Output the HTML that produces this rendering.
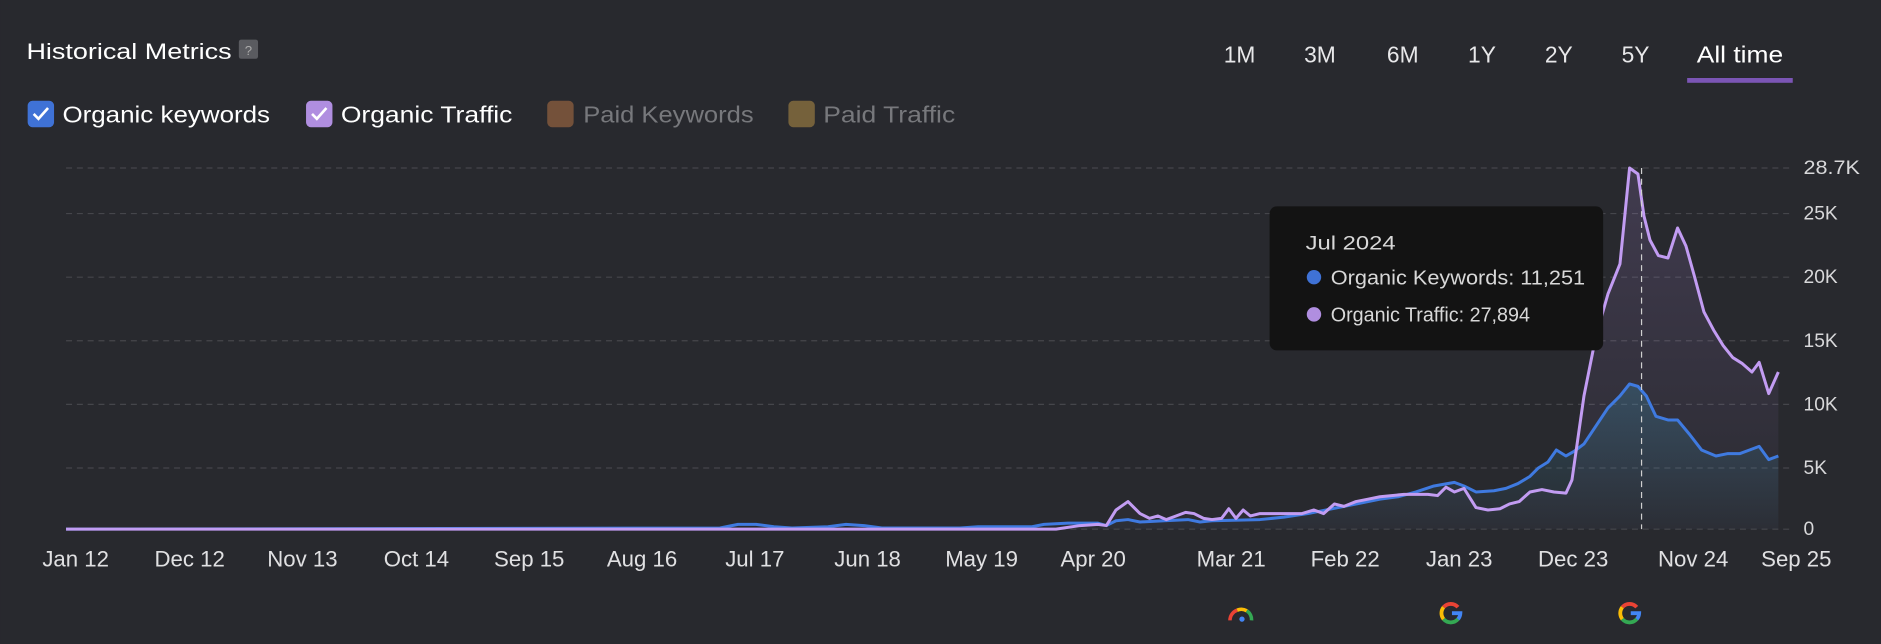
<!DOCTYPE html>
<html><head><meta charset="utf-8"><style>
html,body{margin:0;padding:0;background:#28292e;width:1881px;height:644px;overflow:hidden}
svg{display:block;font-family:"Liberation Sans",sans-serif}
</style></head><body>
<svg width="1881" height="644" viewBox="0 0 1567.5 536.7" xmlns="http://www.w3.org/2000/svg">
<defs>
<linearGradient id="gp" x1="0" y1="0" x2="0" y2="1"><stop offset="0" stop-color="#b48ee6" stop-opacity="0.18"/><stop offset="1" stop-color="#b48ee6" stop-opacity="0.02"/></linearGradient>
<linearGradient id="gb" x1="0" y1="0" x2="0" y2="1"><stop offset="0" stop-color="#3d8fb0" stop-opacity="0.3"/><stop offset="1" stop-color="#3d8fb0" stop-opacity="0.03"/></linearGradient>
</defs>
<rect width="1567.5" height="536.7" fill="#28292e"/>
<text x="22" y="49" font-size="18.5" fill="#fff" textLength="171" lengthAdjust="spacingAndGlyphs">Historical Metrics</text>
<rect x="199" y="33" width="16" height="16" rx="2" fill="#5a5b60"/><text x="207" y="46" font-size="11" fill="#aaa" text-anchor="middle">?</text>
<g font-size="19.5">
<rect x="23" y="84" width="22" height="22" rx="4" fill="#3f72d6"/><path d="M28 95 l4 4 l8 -9" stroke="#fff" stroke-width="2.2" fill="none"/>
<text x="52" y="102" fill="#fff" textLength="173" lengthAdjust="spacingAndGlyphs">Organic keywords</text>
<rect x="255" y="84" width="22" height="22" rx="4" fill="#b08ee0"/><path d="M260 95 l4 4 l8 -9" stroke="#fff" stroke-width="2.2" fill="none"/>
<text x="284" y="102" fill="#fff" textLength="143" lengthAdjust="spacingAndGlyphs">Organic Traffic</text>
<rect x="456" y="84" width="22" height="22" rx="4" fill="#74513a"/><text x="486" y="102" fill="#77787c" textLength="142" lengthAdjust="spacingAndGlyphs">Paid Keywords</text>
<rect x="657" y="84" width="22" height="22" rx="4" fill="#75613b"/><text x="686" y="102" fill="#77787c" textLength="110" lengthAdjust="spacingAndGlyphs">Paid Traffic</text>
</g>
<g font-size="19" fill="#e8e8ea" text-anchor="middle">
<text x="1033" y="52">1M</text><text x="1100" y="52">3M</text><text x="1169" y="52">6M</text><text x="1235" y="52">1Y</text><text x="1299" y="52">2Y</text><text x="1363" y="52">5Y</text><text x="1450" y="52" fill="#fff" textLength="72" lengthAdjust="spacingAndGlyphs">All time</text>
</g>
<rect x="1406" y="65" width="88" height="4" fill="#7b55b5"/>
<g stroke="#45464b" stroke-dasharray="5,4" stroke-width="1">
<line x1="55" y1="140" x2="1495" y2="140"/><line x1="55" y1="178" x2="1495" y2="178"/><line x1="55" y1="231" x2="1495" y2="231"/><line x1="55" y1="284" x2="1495" y2="284"/><line x1="55" y1="337" x2="1495" y2="337"/><line x1="55" y1="390" x2="1495" y2="390"/><line x1="55" y1="441" x2="1495" y2="441"/>
</g>
<g font-size="16" fill="#d8d8da">
<text x="1503" y="145" textLength="47" lengthAdjust="spacingAndGlyphs">28.7K</text><text x="1503" y="183">25K</text><text x="1503" y="236">20K</text><text x="1503" y="289">15K</text><text x="1503" y="342">10K</text><text x="1503" y="395">5K</text><text x="1503" y="446">0</text>
</g>
<g font-size="18.5" fill="#e0e0e2" text-anchor="middle">
<text x="63" y="472">Jan 12</text><text x="158" y="472">Dec 12</text><text x="252" y="472">Nov 13</text><text x="347" y="472">Oct 14</text><text x="441" y="472">Sep 15</text><text x="535" y="472">Aug 16</text><text x="629" y="472">Jul 17</text><text x="723" y="472">Jun 18</text><text x="818" y="472">May 19</text><text x="911" y="472">Apr 20</text><text x="1026" y="472">Mar 21</text><text x="1121" y="472">Feb 22</text><text x="1216" y="472">Jan 23</text><text x="1311" y="472">Dec 23</text><text x="1411" y="472">Nov 24</text><text x="1497" y="472">Sep 25</text>
</g>
<path fill="url(#gp)" d="M55,441 L880,441 900,438 915,437 922,438 930,425 940,418 950,428 958,432 965,430 972,433 980,430 988,427 995,428 1003,432 1010,433 1018,432 1024,424 1030,432 1036,425 1042,430 1050,428 1085,428 1095,425 1103,428 1112,420 1120,422 1130,418 1140,416 1150,414 1170,412 1190,412 1198,413 1205,406 1212,410 1220,407 1230,423 1240,425 1250,424 1258,420 1266,418 1275,410 1285,408 1295,410 1305,411 1310,400 1320,330 1330,280 1340,245 1350,220 1358,140 1365,145 1370,180 1375,200 1382,213 1390,215 1398,190 1405,205 1412,230 1420,260 1428,275 1436,288 1444,298 1452,303 1460,310 1466,302 1474,328 1482,310 L1482,441 Z"/>
<path fill="url(#gb)" d="M55,441 L600,440 615,437 630,437 645,439 660,440 690,439 705,437 720,438 735,440 800,440 815,439 860,439 870,437 890,436 915,436 922,438 930,434 940,433 950,435 970,434 990,433 1000,435 1010,434 1050,433 1070,431 1090,428 1110,424 1130,420 1150,416 1165,414 1180,410 1195,405 1212,402 1220,405 1230,410 1245,409 1255,407 1265,403 1275,397 1282,390 1290,385 1297,375 1305,380 1312,376 1320,370 1330,355 1340,340 1350,330 1358,320 1365,322 1372,330 1380,347 1390,350 1398,350 1408,362 1418,375 1430,380 1440,378 1450,378 1458,375 1466,372 1474,383 1482,380 L1482,441 Z"/>
<polyline fill="none" stroke="#3f7ae0" stroke-width="2.5" stroke-linejoin="round" points="55,441 600,440 615,437 630,437 645,439 660,440 690,439 705,437 720,438 735,440 800,440 815,439 860,439 870,437 890,436 915,436 922,438 930,434 940,433 950,435 970,434 990,433 1000,435 1010,434 1050,433 1070,431 1090,428 1110,424 1130,420 1150,416 1165,414 1180,410 1195,405 1212,402 1220,405 1230,410 1245,409 1255,407 1265,403 1275,397 1282,390 1290,385 1297,375 1305,380 1312,376 1320,370 1330,355 1340,340 1350,330 1358,320 1365,322 1372,330 1380,347 1390,350 1398,350 1408,362 1418,375 1430,380 1440,378 1450,378 1458,375 1466,372 1474,383 1482,380"/>
<polyline fill="none" stroke="#c29cf2" stroke-width="2.5" stroke-linejoin="round" points="55,441 880,441 900,438 915,437 922,438 930,425 940,418 950,428 958,432 965,430 972,433 980,430 988,427 995,428 1003,432 1010,433 1018,432 1024,424 1030,432 1036,425 1042,430 1050,428 1085,428 1095,425 1103,428 1112,420 1120,422 1130,418 1140,416 1150,414 1170,412 1190,412 1198,413 1205,406 1212,410 1220,407 1230,423 1240,425 1250,424 1258,420 1266,418 1275,410 1285,408 1295,410 1305,411 1310,400 1320,330 1330,280 1340,245 1350,220 1358,140 1365,145 1370,180 1375,200 1382,213 1390,215 1398,190 1405,205 1412,230 1420,260 1428,275 1436,288 1444,298 1452,303 1460,310 1466,302 1474,328 1482,310"/>
<line x1="1368" y1="140" x2="1368" y2="441" stroke="#d0d0d0" stroke-width="1" stroke-dasharray="5,4"/>
<rect x="1058" y="172" width="278" height="120" rx="6" fill="#131313"/>
<text x="1088" y="208" font-size="16" fill="#d8d8d8" textLength="75" lengthAdjust="spacingAndGlyphs">Jul 2024</text>
<circle cx="1095" cy="231" r="6" fill="#3f72d6"/><text x="1109" y="237" font-size="17" fill="#d8d8d8" textLength="212" lengthAdjust="spacingAndGlyphs">Organic Keywords: 11,251</text>
<circle cx="1095" cy="262" r="6" fill="#b08ee0"/><text x="1109" y="268" font-size="17" fill="#d8d8d8" textLength="166" lengthAdjust="spacingAndGlyphs">Organic Traffic: 27,894</text>
<g transform="translate(1034,514)">
<path d="M-9,3 A9,9 0 0 1 -3,-5.5" stroke="#ea4335" stroke-width="3" fill="none"/>
<path d="M-3,-5.5 A9,9 0 0 1 5,-5" stroke="#fbbc05" stroke-width="3" fill="none"/>
<path d="M5,-5 A9,9 0 0 1 9,3" stroke="#34a853" stroke-width="3" fill="none"/>
<circle cx="1" cy="2" r="2.2" fill="#4285f4"/>
</g>
<g transform="translate(1209,511)" fill="none" stroke-width="3.2">
<path d="M6,-5 A8,8 0 0 0 -6,-5" stroke="#ea4335"/><path d="M-6,-5 A8,8 0 0 0 -6,5" stroke="#fbbc05"/><path d="M-6,5 A8,8 0 0 0 6,5" stroke="#34a853"/><path d="M6,5 A8,8 0 0 0 8,0 L1,0" stroke="#4285f4"/>
</g>
<g transform="translate(1358,511)" fill="none" stroke-width="3.2">
<path d="M6,-5 A8,8 0 0 0 -6,-5" stroke="#ea4335"/><path d="M-6,-5 A8,8 0 0 0 -6,5" stroke="#fbbc05"/><path d="M-6,5 A8,8 0 0 0 6,5" stroke="#34a853"/><path d="M6,5 A8,8 0 0 0 8,0 L1,0" stroke="#4285f4"/>
</g>
</svg>
</body></html>
